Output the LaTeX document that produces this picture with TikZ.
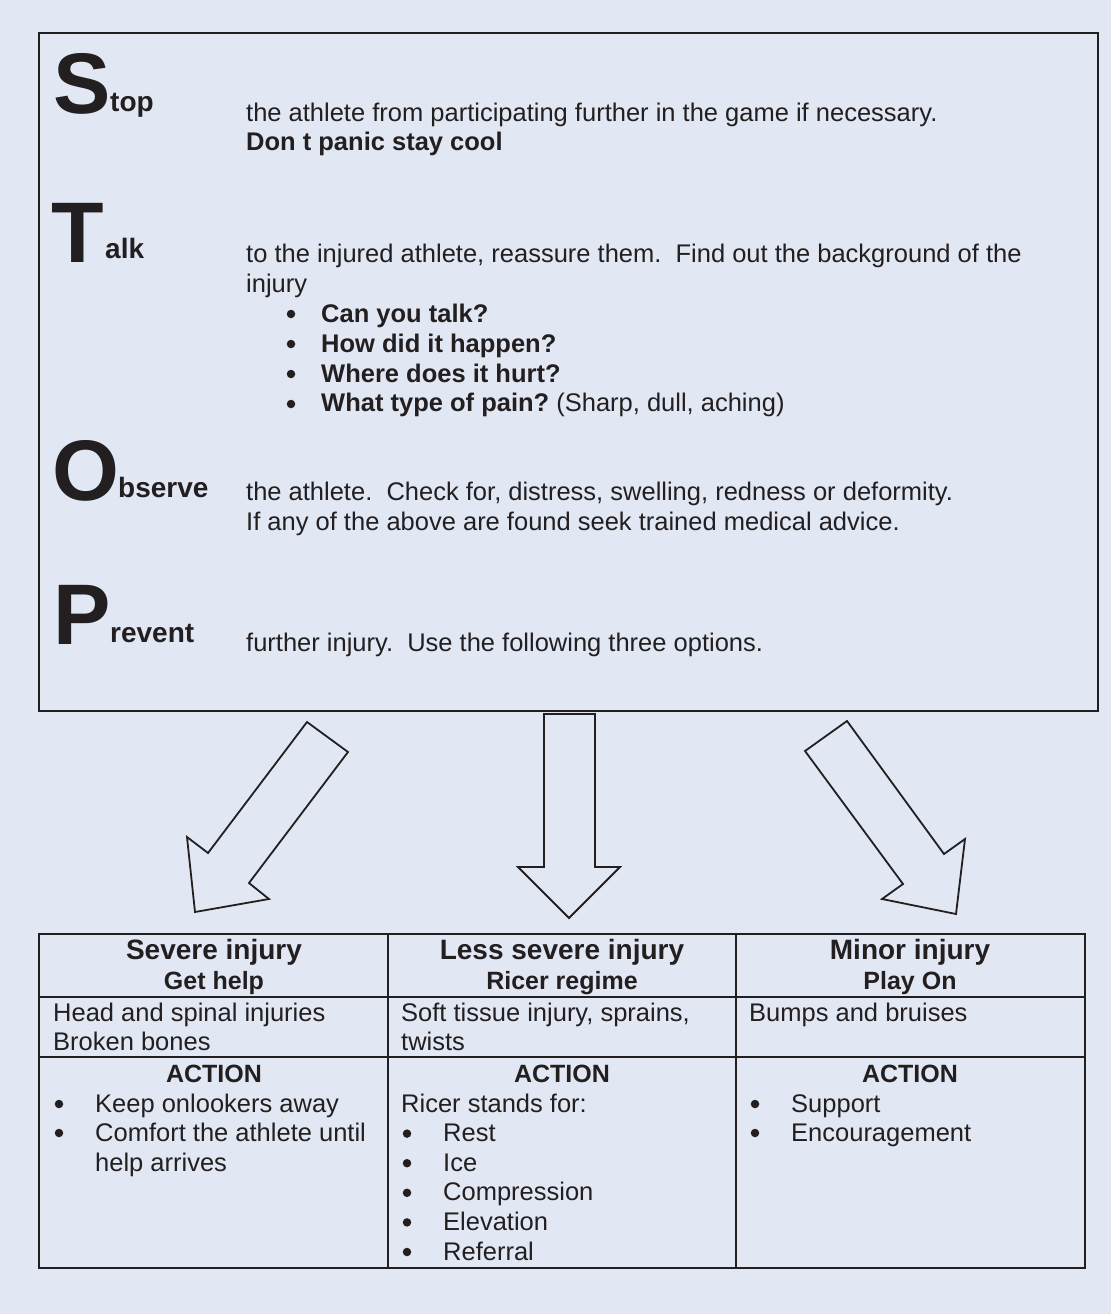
\documentclass[tikz,border=0pt]{standalone}
\usepackage{fontspec}
\setmainfont{Liberation Sans}
\usepackage{xcolor}
\usetikzlibrary{positioning}
\definecolor{paleblue}{HTML}{E1E7F3}
\definecolor{inkgray}{HTML}{231F20}
\frenchspacing

\begin{document}
\begin{tikzpicture}[x=1pt,y=-1pt,inkgray,
  big letter/.style={anchor=base west,inner sep=0pt,font=\fontsize{86}{86}\selectfont\bfseries},
  sub word/.style={anchor=base west,inner sep=0pt,font=\fontsize{28}{30}\selectfont\bfseries},
  body text/.style={anchor=base west,inner sep=0pt,font=\fontsize{25.5}{30}\selectfont},
  bold text/.style={body text,font=\fontsize{25.5}{30}\selectfont\bfseries},
  head text/.style={anchor=base,inner sep=0pt,font=\fontsize{28}{30}\selectfont\bfseries},
  sub head/.style={anchor=base,inner sep=0pt,font=\fontsize{25}{30}\selectfont\bfseries},
  dot/.style={circle,fill,inner sep=0pt,minimum size=8.5pt},
  block arrow/.style={draw,line width=1.8pt,line join=miter},
  frame line/.style={draw,line width=1.2pt}]

  \fill[paleblue] (0,0) rectangle (1111,1314);
  \useasboundingbox (0,0) rectangle (1111,1314);

  % STOP box
  \draw[frame line] (39,33) rectangle (1098,711);

  \node[big letter] (S) at (53,113) {S};
  \node[sub word] (s1) at (110,111) {top};
  \node[body text] (s2) at (246,121) {the athlete from participating further in the game if necessary.};
  \node[bold text] (s3) at (246,150) {Don t panic stay cool};

  \node[big letter] (T) at (51,262) {T};
  \node[sub word] (t1) at (105,258) {alk};
  \node[body text] (t2) at (246,262) {to the injured athlete, reassure them.~ Find out the background of the};
  \node[body text] (t3) at (246,292) {injury};
  \foreach \q [count=\i] in {Can you talk?,How did it happen?,Where does it hurt?}
    \node[bold text] (q\i) at (321,292+30*\i) {\q};
  \node[bold text] (q4) at (321,411) {What type of pain? \mdseries(Sharp, dull, aching)};
  \foreach \i in {1,...,4}
    \node[dot] (qb\i) at (291,284+30*\i) {};

  \node[big letter] (O) at (52,500) {O};
  \node[sub word] (o1) at (118,497) {bserve};
  \node[body text] (o2) at (246,500) {the athlete.~ Check for, distress, swelling, redness or deformity.};
  \node[body text] (o3) at (246,530) {If any of the above are found seek trained medical advice.};

  \node[big letter] (P) at (53,644) {P};
  \node[sub word] (p1) at (110,642) {revent};
  \node[body text] (p2) at (246,651) {further injury.~ Use the following three options.};

  % arrows
  \draw[block arrow] (307,722) -- (348,752) -- (249,883) -- (269,899) -- (195,912) -- (187,837) -- (208,853) -- cycle;
  \draw[block arrow] (544,714) -- (595,714) -- (595,867) -- (620,867) -- (569,918) -- (518,867) -- (544,867) -- cycle;
  \draw[block arrow] (847,721) -- (805,751) -- (903,884) -- (882,899) -- (956,914) -- (965,839) -- (944,854) -- cycle;

  % table
  \draw[frame line] (39,934) rectangle (1085,1268);
  \draw[frame line] (388,934) -- (388,1268) (736,934) -- (736,1268);
  \draw[frame line] (39,997) -- (1085,997) (39,1057) -- (1085,1057);

  \node[head text] (h1) at (214,959) {Severe injury};
  \node[sub head] (g1) at (214,989) {Get help};
  \node[head text] (h2) at (562,959) {Less severe injury};
  \node[sub head] (g2) at (562,989) {Ricer regime};
  \node[head text] (h3) at (910,959) {Minor injury};
  \node[sub head] (g3) at (910,989) {Play On};

  \node[body text] (c1a) at (53,1021) {Head and spinal injuries};
  \node[body text] (c1b) at (53,1050) {Broken bones};
  \node[body text] (c2a) at (401,1021) {Soft tissue injury, sprains,};
  \node[body text] (c2b) at (401,1050) {twists};
  \node[body text] (c3a) at (749,1021) {Bumps and bruises};

  \foreach \x in {214,562,910}
    \node[sub head] at (\x,1082) {ACTION};

  \node[body text] (k1) at (95,1112) {Keep onlookers away};
  \node[body text] (k2) at (95,1141) {Comfort the athlete until};
  \node[body text] (k3) at (95,1171) {help arrives};
  \node[dot] (kb1) at (59,1104) {};
  \node[dot] (kb2) at (59,1133) {};

  \node[body text] (r0) at (401,1112) {Ricer stands for:};
  \foreach \w [count=\i] in {Rest,Ice,Compression,Elevation,Referral}{
    \node[dot] (rb\i) at (407,1104+29.6*\i) {};
    \node[body text] (r\i) at (443,1112+29.6*\i) {\w};
  }

  \node[body text] (m1) at (791,1112) {Support};
  \node[body text] (m2) at (791,1141) {Encouragement};
  \node[dot] (mb1) at (755,1104) {};
  \node[dot] (mb2) at (755,1133) {};
\end{tikzpicture}
\end{document}
